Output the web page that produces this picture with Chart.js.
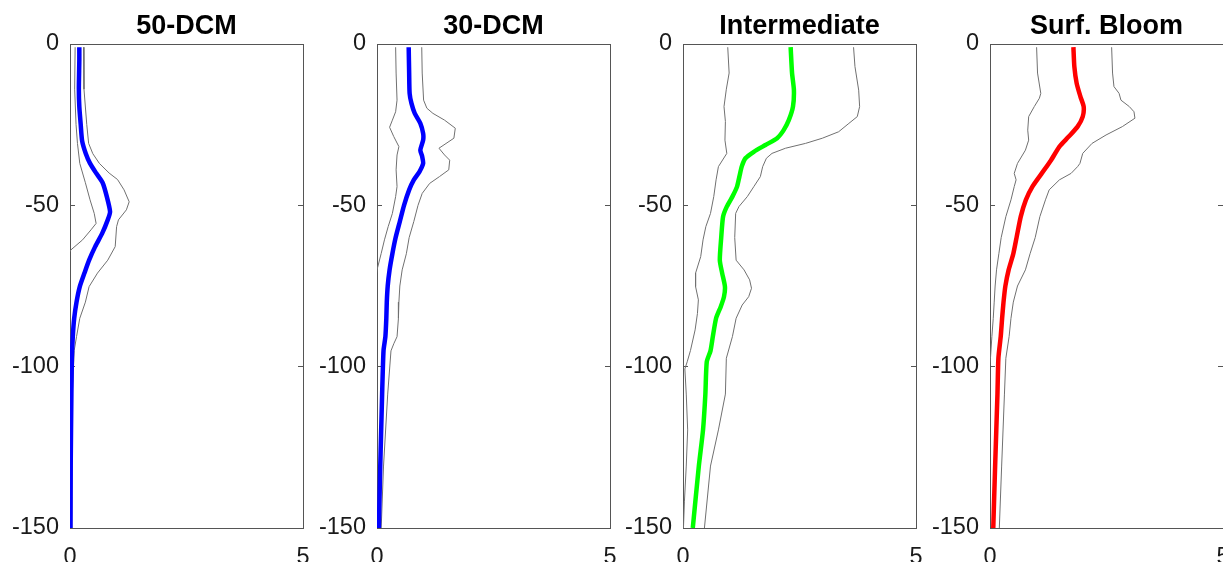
<!DOCTYPE html>
<html>
<head>
<meta charset="utf-8">
<script src="https://cdn.jsdelivr.net/npm/chart.js@4.4.1/dist/chart.umd.min.js"></script>
<style>
html,body{margin:0;padding:0;background:#fff;overflow:hidden;width:1223px;height:562px;}
canvas{position:absolute;top:0;}
</style>
</head>
<body>
<canvas id="c0" width="373" height="562" style="left:0px"></canvas>
<canvas id="c1" width="373" height="562" style="left:307px"></canvas>
<canvas id="c2" width="373" height="562" style="left:613px"></canvas>
<canvas id="c3" width="373" height="562" style="left:920px"></canvas>
<script>
// ---------- data ----------
const titles = ["50-DCM", "30-DCM", "Intermediate", "Surf. Bloom"];
const meanColors = ["#0000ff", "#0000ff", "#00ff00", "#ff0000"];
const xTicks = [0, 5];
const yTicks = [0, -50, -100, -150];

// Panel 1: 50-DCM
const p1MeanDepth = [-1, -5, -14, -19.4, -25, -30, -34, -37, -40, -43, -47.3, -52, -54.5, -58.7, -62.8, -67, -71, -75.2, -80, -85, -90.7, -97.4, -108.5, -130.8, -150];
const p1MeanVal   = [0.20, 0.20, 0.19, 0.20, 0.23, 0.26, 0.34, 0.43, 0.56, 0.70, 0.79, 0.86, 0.81, 0.69, 0.54, 0.41, 0.31, 0.21, 0.14, 0.09, 0.06, 0.04, 0.03, 0.015, 0.01];
const p1HighDepth = [-1, -14, -25, -30.8, -34, -37, -40, -42, -45.2, -48.9, -51.4, -54.5, -56.6, -62.8, -67, -71, -75.2, -80, -85, -90.7, -95, -108.5, -150];
const p1HighVal   = [0.29, 0.30, 0.36, 0.40, 0.49, 0.63, 0.84, 1.02, 1.16, 1.27, 1.21, 1.04, 1.00, 0.97, 0.81, 0.59, 0.41, 0.33, 0.21, 0.14, 0.09, 0.05, 0.04];
const p1LowDepth  = [-1, -14, -25, -30.8, -37, -43, -48.3, -52.5, -55.6, -57.6, -60.7, -63.8, -65, -75, -95, -120, -150];
const p1LowVal    = [0.11, 0.10, 0.13, 0.16, 0.21, 0.33, 0.43, 0.52, 0.56, 0.45, 0.27, 0.02, -0.03, -0.2, -0.1, -0.05, -0.02];

// Panel 2: 30-DCM
const p2MeanDepth = [-1, -9, -15.3, -18.4, -21.5, -24.6, -27.7, -29.8, -32.9, -34.9, -37, -39.6, -42.1, -45.2, -50, -55, -60, -65, -70, -75, -80, -85, -90.7, -95, -108.5, -130.8, -150];
const p2MeanVal   = [0.68, 0.69, 0.70, 0.74, 0.81, 0.93, 0.99, 0.99, 0.93, 0.97, 0.99, 0.91, 0.79, 0.69, 0.58, 0.49, 0.40, 0.33, 0.27, 0.23, 0.21, 0.20, 0.18, 0.14, 0.11, 0.07, 0.04];
const p2HighDepth = [-1, -9, -17.4, -19.9, -21.5, -23.6, -26.1, -29.2, -32.3, -34.4, -36, -39, -41.1, -43.2, -46.3, -50, -55, -60, -65, -70, -75, -80, -85, -90.7, -92.9, -95.1, -108.5, -130.8, -150];
const p2HighVal   = [0.96, 0.97, 1.00, 1.07, 1.20, 1.45, 1.68, 1.65, 1.33, 1.45, 1.56, 1.54, 1.34, 1.13, 0.97, 0.88, 0.79, 0.69, 0.63, 0.54, 0.49, 0.47, 0.46, 0.43, 0.36, 0.30, 0.23, 0.14, 0.09];
const p2LowDepth  = [-1, -9, -17.4, -21, -23.6, -25.8, -28.7, -31.8, -34.4, -39, -44.2, -47.3, -52.5, -56.6, -60.7, -64.9, -70, -80, -100, -150];
const p2LowVal    = [0.40, 0.41, 0.43, 0.40, 0.33, 0.27, 0.36, 0.47, 0.43, 0.41, 0.43, 0.40, 0.33, 0.24, 0.16, 0.09, 0.0, -0.1, -0.1, -0.05];

// Panel 3: Intermediate
const p3MeanDepth = [-1, -9, -14.3, -19.4, -23.6, -26.7, -29.2, -31.3, -33.4, -35.4, -38, -41.1, -44.2, -47.3, -50.4, -53.5, -60, -67, -71, -75.2, -78.3, -81.4, -85, -90.7, -95.1, -98.5, -108.5, -119.6, -130.8, -150];
const p3MeanVal   = [2.31, 2.34, 2.38, 2.36, 2.27, 2.16, 2.02, 1.77, 1.52, 1.34, 1.26, 1.21, 1.16, 1.06, 0.94, 0.86, 0.82, 0.79, 0.84, 0.90, 0.88, 0.81, 0.71, 0.64, 0.59, 0.51, 0.48, 0.43, 0.34, 0.21];
const p3HighDepth = [-1, -7, -14.3, -19.4, -22.5, -24.6, -27.2, -29.2, -30.8, -32.3, -33.9, -35.4, -38, -41.1, -44.2, -47.3, -50.4, -52.5, -60, -67, -70, -73.1, -75.7, -78.3, -80.9, -85, -90.7, -97.4, -108.5, -119.6, -130.8, -150];
const p3HighVal   = [3.66, 3.69, 3.77, 3.79, 3.74, 3.56, 3.34, 2.99, 2.63, 2.20, 1.91, 1.79, 1.71, 1.66, 1.52, 1.38, 1.20, 1.13, 1.11, 1.14, 1.31, 1.43, 1.47, 1.41, 1.27, 1.14, 1.06, 0.93, 0.91, 0.76, 0.59, 0.46];
const p3LowDepth  = [-1, -9, -14, -19.4, -24, -29.8, -33.9, -38, -42.1, -47.3, -52.5, -56.6, -60.7, -65.9, -71, -75.2, -79.3, -83.5, -88.6, -95, -98.5, -100.7, -108.5, -119.6, -130.8, -141.9, -150];
const p3LowVal    = [0.96, 0.99, 0.93, 0.88, 0.91, 0.90, 0.94, 0.76, 0.71, 0.66, 0.59, 0.49, 0.43, 0.38, 0.27, 0.27, 0.33, 0.31, 0.26, 0.16, 0.09, 0.04, 0.07, 0.10, 0.07, 0.03, 0.01];

// Panel 4: Surf. Bloom
const p4MeanDepth = [-1, -7, -12.2, -16.3, -19.4, -22.5, -25.6, -28.7, -31.8, -36, -40.1, -44.2, -48.3, -53.5, -60, -65, -70, -75, -80, -85, -90.7, -97.4, -108.5, -130.8, -150];
const p4MeanVal   = [1.79, 1.81, 1.86, 1.94, 2.01, 1.99, 1.88, 1.69, 1.49, 1.31, 1.11, 0.91, 0.77, 0.66, 0.57, 0.50, 0.40, 0.33, 0.29, 0.26, 0.23, 0.18, 0.16, 0.11, 0.07];
const p4HighDepth = [-1, -9, -13.2, -15.3, -17.4, -19.4, -21, -23, -25.6, -28.2, -30.8, -33.9, -37, -38, -40.1, -42.1, -45.2, -48.3, -53.5, -60, -65, -70, -75, -80, -85, -90.7, -97.4, -108.5, -130.8, -150];
const p4HighVal   = [2.61, 2.63, 2.66, 2.77, 2.81, 2.99, 3.09, 3.11, 2.84, 2.49, 2.19, 1.99, 1.93, 1.88, 1.74, 1.49, 1.27, 1.19, 1.07, 0.97, 0.86, 0.76, 0.59, 0.50, 0.45, 0.41, 0.34, 0.31, 0.25, 0.20];
const p4LowDepth  = [-1, -9, -15.3, -16.8, -19.4, -22.5, -26.7, -29.8, -32.9, -37, -40.1, -42.1, -44.2, -48.3, -53.5, -60, -65, -70, -75, -80, -85, -90.7, -97.4, -105, -150];
const p4LowVal    = [1.00, 1.02, 1.09, 1.06, 0.95, 0.83, 0.81, 0.83, 0.76, 0.59, 0.52, 0.56, 0.52, 0.45, 0.34, 0.24, 0.19, 0.14, 0.11, 0.09, 0.07, 0.04, 0.01, -0.05, -0.1];

// ---------- build ----------
const panels = [
  {mean:[p1MeanVal,p1MeanDepth], high:[p1HighVal,p1HighDepth], low:[p1LowVal,p1LowDepth]},
  {mean:[p2MeanVal,p2MeanDepth], high:[p2HighVal,p2HighDepth], low:[p2LowVal,p2LowDepth]},
  {mean:[p3MeanVal,p3MeanDepth], high:[p3HighVal,p3HighDepth], low:[p3LowVal,p3LowDepth]},
  {mean:[p4MeanVal,p4MeanDepth], high:[p4HighVal,p4HighDepth], low:[p4LowVal,p4LowDepth]}
];
const pts = (vals, depths) => vals.map((v, i) => ({x: v, y: depths[i]}));

const FONT = "'Liberation Sans', Arial, Helvetica, sans-serif";
const AXC = '#555555';
const GRAY = '#707070';

panels.forEach((p, i) => {
  new Chart(document.getElementById('c' + i), {
    type: 'line',
    data: {
      datasets: [
        {data: pts(p.mean[0], p.mean[1]), borderColor: meanColors[i], borderWidth: 4.5, pointRadius: 0, tension: 0.2, order: 0, borderJoinStyle: 'round', borderCapStyle: 'butt'},
        {data: pts(p.high[0], p.high[1]), borderColor: GRAY, borderWidth: 1, pointRadius: 0, tension: 0, order: 1},
        {data: pts(p.low[0], p.low[1]), borderColor: GRAY, borderWidth: 1, pointRadius: 0, tension: 0, order: 1}
      ]
    },
    options: {
      responsive: false,
      animation: false,
      layout: {padding: {left: 0, right: 35, top: 0, bottom: 0}},
      plugins: {
        legend: {display: false},
        tooltip: {enabled: false},
        title: {
          display: true, text: titles[i], color: '#000', fullSize: false,
          font: {family: FONT, size: 27, weight: 'bold', lineHeight: 1},
          padding: {top: 13, bottom: 4}
        }
      },
      scales: {
        x: {
          type: 'linear', position: 'bottom', min: 0, max: 5,
          afterBuildTicks: s => { s.ticks = xTicks.map(v => ({value: v})); },
          ticks: {color: '#1a1a1a', font: {family: FONT, size: 23.5}, padding: 15, maxRotation: 0, autoSkip: false},
          grid: {drawOnChartArea: false, drawTicks: false},
          border: {display: true, color: AXC, width: 1},
          afterFit: s => { s.height = 34; }
        },
        xT: {
          type: 'linear', position: 'top', min: 0, max: 5,
          ticks: {display: false},
          grid: {drawOnChartArea: false, drawTicks: false},
          border: {display: true, color: AXC, width: 1},
          afterFit: s => { s.height = 0; }
        },
        y: {
          type: 'linear', position: 'left', min: -150, max: 0,
          afterBuildTicks: s => { s.ticks = yTicks.map(v => ({value: v})); },
          ticks: {color: '#1a1a1a', font: {family: FONT, size: 23.5}, padding: 16, autoSkip: false},
          grid: {drawOnChartArea: false, drawTicks: true, tickLength: -5, color: AXC},
          border: {display: true, color: AXC, width: 1},
          afterFit: s => { s.width = 70; }
        },
        yR: {
          type: 'linear', position: 'right', min: -150, max: 0,
          afterBuildTicks: s => { s.ticks = yTicks.map(v => ({value: v})); },
          ticks: {display: false},
          grid: {drawOnChartArea: false, drawTicks: true, tickLength: -5, color: AXC},
          border: {display: true, color: AXC, width: 1},
          afterFit: s => { s.width = 35; }
        }
      }
    }
  });
});
</script>
</body>
</html>
